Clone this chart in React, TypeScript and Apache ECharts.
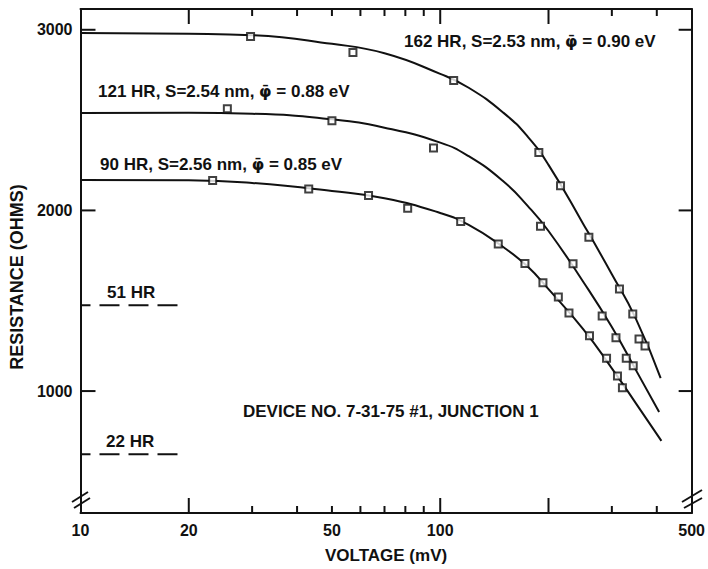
import React, { useEffect, useRef } from 'react';
import * as echarts from 'echarts';

// Axis ticks / labels (voltage in mV, resistance in ohms)
const xLabelValues = [10, 20, 50, 100, 500];
const xMajorTicks = [20, 100, 200];
const xMinorTicks = [30, 40, 50, 60, 70, 80, 90, 300, 400];
const yTickValues = [1000, 2000, 3000];

// Measured points (squares)
const v162 = [29.7, 57.2, 109, 188, 216, 259, 315, 343, 357, 371];
const r162 = [2963, 2874, 2719, 2320, 2136, 1852, 1565, 1427, 1288, 1249];
const v121 = [25.6, 50, 95.8, 190, 234, 282, 308, 329, 344];
const r121 = [2563, 2496, 2345, 1913, 1705, 1416, 1295, 1181, 1140];
const v90 = [23.3, 43.1, 63.2, 81.2, 114, 145, 172, 193, 213, 228, 260, 290, 311, 321];
const r90 = [2166, 2119, 2082, 2012, 1939, 1814, 1706, 1600, 1521, 1432, 1306, 1181, 1083, 1018];

// Fitted theory curves
const fitV162 = [10, 20, 30, 50, 70, 100, 120, 150, 175, 200, 250, 300, 350, 410];
const fitR162 = [2982, 2978, 2970, 2922, 2870, 2756, 2679, 2540, 2409, 2252, 1924, 1647, 1400, 1072];
const fitV121 = [10, 20, 30, 50, 70, 100, 120, 150, 175, 200, 250, 300, 350, 406];
const fitR121 = [2539, 2540, 2535, 2504, 2458, 2375, 2300, 2160, 2025, 1886, 1604, 1355, 1116, 884];
const fitV90 = [10, 20, 30, 50, 70, 100, 120, 150, 175, 200, 250, 300, 350, 412];
const fitR90 = [2169, 2167, 2152, 2108, 2067, 1986, 1920, 1796, 1689, 1564, 1342, 1126, 932, 724];

// Constant (voltage-independent) levels at short anneal times
const levelV = [10, 19];
const level51 = 1475;
const level22 = 650;

const X_MIN = 10;
const X_MAX = 500;
const Y_MIN = 325;
const Y_MAX = 3115;

const FONT = '"Liberation Sans", Arial, Helvetica, sans-serif';
const BLACK = '#111';

const zip = (xs: number[], ys: number[]) => xs.map((x, i) => [x, ys[i]]);

export default function App() {
  const ref = useRef<HTMLDivElement>(null);

  useEffect(() => {
    if (!ref.current) return;
    const chart = echarts.init(ref.current, null, { renderer: 'svg' });

    const lineStyle2 = { color: BLACK, width: 2 };
    const xBase: any = {
      type: 'log',
      logBase: 10,
      min: X_MIN,
      max: X_MAX,
      splitLine: { show: false },
      minorTick: { show: false },
      minorSplitLine: { show: false },
      axisTick: { show: false },
    };
    const yBase: any = {
      type: 'value',
      min: Y_MIN,
      max: Y_MAX,
      splitLine: { show: false },
      axisTick: { show: false },
    };
    const lineCommon = {
      type: 'line',
      smooth: 0.5,
      showSymbol: false,
      symbol: 'none',
      lineStyle: { color: BLACK, width: 2 },
      z: 2,
    };
    const scatterCommon = {
      type: 'scatter',
      symbol: 'rect',
      symbolSize: 7,
      itemStyle: { color: '#fff', borderColor: BLACK, borderWidth: 2 },
      z: 3,
    };
    const dashCommon = {
      type: 'line',
      showSymbol: false,
      symbol: 'none',
      lineStyle: { color: BLACK, width: 2, type: [20, 9], dashOffset: 10 },
    };

    chart.setOption({
      animation: false,
      backgroundColor: '#fff',
      grid: { left: 80, right: 16, top: 9, bottom: 56, containLabel: false },
      xAxis: [
        {
          ...xBase,
          position: 'bottom',
          axisLine: { show: true, onZero: false, lineStyle: lineStyle2 },
          axisLabel: {
            show: true,
            customValues: xLabelValues,
            margin: 9,
            color: BLACK,
            fontSize: 16,
            fontWeight: 'bold',
            fontFamily: FONT,
          },
          name: 'VOLTAGE (mV)',
          nameLocation: 'middle',
          nameGap: 34,
          nameTextStyle: { color: BLACK, fontSize: 17, fontWeight: 'bold', fontFamily: FONT },
        },
        {
          ...xBase,
          position: 'top',
          axisLine: { show: true, onZero: false, lineStyle: lineStyle2 },
          axisLabel: { show: false },
        },
      ],
      yAxis: [
        {
          ...yBase,
          position: 'left',
          axisLine: { show: true, onZero: false, lineStyle: lineStyle2 },
          axisLabel: {
            show: true,
            customValues: yTickValues,
            formatter: (v: number) => String(v),
            margin: 8,
            color: BLACK,
            fontSize: 16,
            fontWeight: 'bold',
            fontFamily: FONT,
          },
          name: 'RESISTANCE (OHMS)',
          nameLocation: 'middle',
          nameGap: 48,
          nameTextStyle: {
            color: BLACK,
            fontSize: 18,
            fontWeight: 'bold',
            fontFamily: FONT,
            padding: [0, 32, 0, 0],
          },
        },
        {
          ...yBase,
          position: 'right',
          axisLine: { show: true, onZero: false, lineStyle: lineStyle2 },
          axisLabel: { show: false },
        },
      ],
      series: [
        { ...lineCommon, name: '162 HR fit', data: zip(fitV162, fitR162) },
        { ...lineCommon, name: '121 HR fit', data: zip(fitV121, fitR121) },
        { ...lineCommon, name: '90 HR fit', data: zip(fitV90, fitR90) },
        { ...scatterCommon, name: '162 HR', data: zip(v162, r162) },
        { ...scatterCommon, name: '121 HR', data: zip(v121, r121) },
        { ...scatterCommon, name: '90 HR', data: zip(v90, r90) },
        { ...dashCommon, name: '51 HR', data: zip(levelV, levelV.map(() => level51)) },
        { ...dashCommon, name: '22 HR', data: zip(levelV, levelV.map(() => level22)) },
      ],
    });

    // Tick marks placed through the axes' own scales
    const px = (v: number) => chart.convertToPixel({ xAxisIndex: 0 }, v) as number;
    const py = (v: number) => chart.convertToPixel({ yAxisIndex: 0 }, v) as number;
    const left = px(X_MIN);
    const right = px(X_MAX);
    const top = py(Y_MAX);
    const bottom = py(Y_MIN);

    const seg = (x1: number, y1: number, x2: number, y2: number) => ({
      type: 'line',
      shape: { x1, y1, x2, y2 },
      style: { stroke: BLACK, lineWidth: 2 },
      z: 10,
      silent: true,
    });
    const ticks: any[] = [];
    xMajorTicks.forEach((v) => {
      const x = px(v);
      ticks.push(seg(x, bottom, x, bottom - 15));
      ticks.push(seg(x, top, x, top + 15));
    });
    xMinorTicks.forEach((v) => {
      const x = px(v);
      ticks.push(seg(x, bottom, x, bottom - 7));
      ticks.push(seg(x, top, x, top + 7));
    });
    yTickValues.forEach((v) => {
      const y = py(v);
      ticks.push(seg(left, y, left + 15, y));
      ticks.push(seg(right, y, right - 13, y));
    });

    const rich = {
      p: { fontFamily: '"DejaVu Sans", sans-serif', fontSize: 16, fontWeight: 'bold', fill: BLACK },
    };
    const label = (t: string, x: number, y: number) => ({
      type: 'text',
      x,
      y,
      z: 10,
      style: {
        text: t,
        fontSize: 17,
        fontWeight: 'bold',
        fontFamily: FONT,
        fill: BLACK,
        align: 'left',
        verticalAlign: 'middle',
        rich,
      },
    });

    chart.setOption({
      graphic: [
        ...ticks,
        label('162 HR, S=2.53 nm, {p|φ̄} = 0.90 eV', 404, 41),
        label('121 HR, S=2.54 nm, {p|φ̄} = 0.88 eV', 98, 91),
        label('90 HR, S=2.56 nm, {p|φ̄} = 0.85 eV', 100, 164),
        label('51 HR', 107, 292),
        label('22 HR', 106, 441),
        label('DEVICE NO. 7-31-75 #1, JUNCTION 1', 243, 411),
        // axis-break marks
        seg(72, 502, 88, 492),
        seg(74, 508, 90, 498),
        seg(682, 502, 702, 490),
        seg(684, 508, 702, 498),
      ],
    });

    return () => chart.dispose();
  }, []);

  return (
    <div
      ref={ref}
      style={{ position: 'absolute', left: 0, top: 0, width: 708, height: 569, background: '#fff' }}
    />
  );
}
